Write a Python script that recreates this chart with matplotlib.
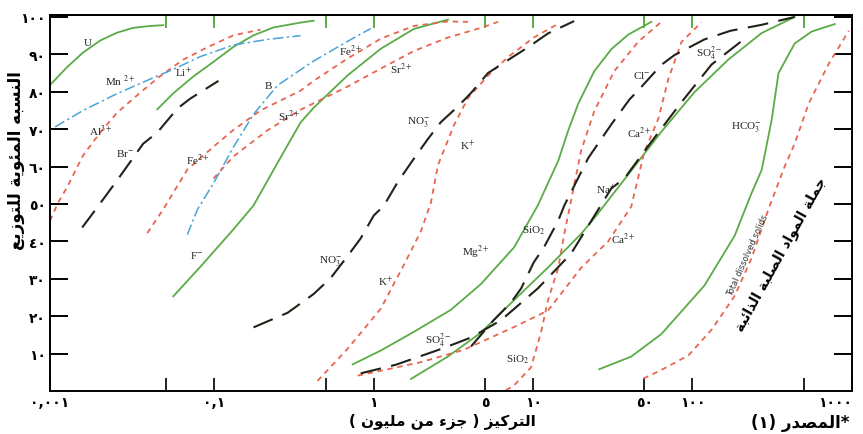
# -*- coding: utf-8 -*-
import matplotlib
matplotlib.use('Agg')
import matplotlib.pyplot as plt
from matplotlib.ticker import NullLocator

# cumulative frequency (percent) against concentration (ppm)
U_x = [0.0093, 0.0119, 0.0150, 0.0192, 0.0245, 0.0310, 0.0396, 0.0478]
U_y = [81.8, 86.6, 90.5, 93.7, 95.8, 97.1, 97.6, 97.8]

Mn_x = [0.0100, 0.0150, 0.0245, 0.0396, 0.0552, 0.0816, 0.1316, 0.2155, 0.3475]
Mn_y = [70.6, 75.0, 79.5, 83.4, 86.0, 89.4, 92.5, 94.0, 95.0]

Al_x = [0.0093, 0.0104, 0.0119, 0.0150, 0.0192, 0.0245, 0.0343, 0.0457, 0.0638, 0.0904, 0.1316, 0.1946]
Al_y = [45.5, 50.2, 54.5, 63.0, 69.1, 74.4, 79.8, 84.2, 88.6, 91.9, 95.1, 96.6]

Br_x = [0.0148, 0.0184, 0.0245, 0.0357, 0.0438, 0.0585, 0.0707, 0.106]
Br_y = [43.7, 49.1, 56.3, 66.1, 69.1, 75.5, 78.2, 82.9]

Li_x = [0.0438, 0.0552, 0.0738, 0.0986, 0.1316, 0.176, 0.235, 0.3475, 0.419]
Li_y = [75.3, 79.6, 84.1, 88.0, 92.0, 95.1, 97.2, 98.5, 99.0]

B_x = [0.0676, 0.0782, 0.0986, 0.1316, 0.176, 0.249, 0.3475, 0.419, 0.686, 0.957]
B_y = [41.8, 48.5, 55.5, 65.2, 74.0, 81.7, 85.9, 88.2, 93.5, 96.9]

F_x = [0.0552, 0.0816, 0.1316, 0.176, 0.260, 0.3475, 0.419, 0.686, 1.107, 1.785, 2.92]
F_y = [25.3, 33.2, 43.2, 49.6, 62.4, 71.8, 75.7, 84.4, 91.5, 96.8, 99.3]

Fe_x = [0.0379, 0.0478, 0.0676, 0.0986, 0.1316, 0.1946, 0.3475, 0.419, 0.686, 1.107, 1.785, 2.92, 3.90]
Fe_y = [42.2, 48.6, 59.2, 65.3, 69.8, 75.0, 80.3, 82.9, 88.9, 94.2, 97.6, 98.8, 98.7]

Sr_x = [0.0986, 0.1316, 0.2155, 0.3475, 0.686, 1.107, 1.785, 2.92, 4.71, 6.03]
Sr_y = [56.8, 62.7, 69.7, 75.2, 81.4, 86.2, 90.9, 94.5, 97.1, 98.7]

NO3_x = [0.176, 0.288, 0.419, 0.537, 0.686, 0.828, 1.0, 1.156, 1.416, 1.785, 2.19, 2.64,
         3.38, 4.08, 5.21, 6.97, 9.30, 12.4, 18.1]
NO3_y = [17.0, 20.9, 25.9, 30.2, 36.1, 40.8, 46.9, 49.5, 55.9, 62.1, 67.4, 71.9,
         76.1, 79.7, 85.0, 88.5, 91.9, 95.6, 98.9]

K_x = [0.444, 0.686, 1.107, 1.545, 1.976, 2.28, 2.53, 3.19, 3.90, 5.21, 6.97, 10.1, 14.4]
K_y = [2.7, 11.3, 22.0, 33.7, 42.7, 50.2, 60.4, 71.1, 78.3, 84.3, 89.3, 94.5, 98.2]

Mg_x = [0.738, 1.107, 1.785, 3.05, 4.71, 7.60, 10.7, 14.4, 16.6, 19.2, 24.2, 31.0, 39.6, 55.2]
Mg_y = [7.1, 10.8, 15.8, 21.7, 28.6, 38.4, 49.6, 61.6, 69.6, 76.8, 85.5, 91.4, 95.3, 98.7]

SiO2_x = [6.76, 7.60, 9.71, 11.2, 12.4, 14.4, 15.7, 17.3, 20.0, 24.2, 32.3, 45.8, 63.8]
SiO2_y = [0.2, 1.5, 6.3, 15.6, 24.2, 33.0, 42.1, 50.8, 64.2, 74.8, 85.5, 93.4, 98.7]

SO4_x = [0.828, 1.375, 2.72, 4.08, 6.29, 10.7, 17.3, 31.0, 37.4, 55.2, 85.3, 132, 225]
SO4_y = [4.7, 7.0, 11.4, 14.3, 18.9, 27.4, 36.7, 54.2, 56.8, 66.6, 77.2, 87.3, 95.0]

Ca_x = [0.793, 1.107, 1.976, 3.68, 7.60, 12.4, 20.0, 29.6, 41.3, 49.9, 61.1, 70.6, 85.3, 114]
Ca_y = [4.1, 5.4, 7.7, 11.0, 17.1, 21.5, 32.9, 40.0, 49.3, 63.9, 72.8, 83.4, 93.3, 98.6]

Na_x = [1.71, 2.92, 4.71, 7.60, 12.4, 20.0, 24.2, 39.6, 63.8, 103, 168, 272, 438]
Na_y = [3.2, 9.2, 15.6, 24.3, 33.0, 42.0, 46.2, 57.9, 69.3, 79.9, 88.6, 95.7, 100.0]

Cl_x = [4.08, 5.68, 7.28, 8.41, 10.1, 11.7, 14.4, 15.7, 22.2, 31.0, 40.2, 47.8, 63.8,
        77.1, 119, 173, 272, 438]
Cl_y = [11.9, 19.0, 23.7, 27.4, 34.4, 38.4, 45.6, 49.6, 62.3, 71.3, 77.9, 81.3, 87.2,
        89.8, 94.0, 96.3, 97.9, 100.0]

HCO3_x = [26.0, 41.3, 63.8, 119, 184, 235, 272, 314, 347, 438, 560, 782]
HCO3_y = [5.8, 9.2, 15.2, 28.2, 41.5, 52.9, 59.1, 72.4, 85.0, 92.9, 96.1, 98.1]

TDS_x = [49.2, 63.8, 94.4, 132, 184, 235, 301, 379, 438, 537, 717, 958]
TDS_y = [3.3, 5.6, 9.5, 16.4, 25.4, 35.5, 48.8, 60.0, 66.1, 76.9, 87.5, 96.3]

x_ticks = [0.05, 0.1, 0.5, 1, 5, 10, 50, 100, 500]
x_labels = {0.1: '٠,١', 1: '١', 5: '٥', 10: '١٠', 50: '٥٠', 100: '١٠٠'}
y_ticks = [10, 20, 30, 40, 50, 60, 70, 80, 90, 100]
y_labels = ['١٠', '٢٠', '٣٠', '٤٠', '٥٠', '٦٠', '٧٠', '٨٠', '٩٠', '١٠٠']

GREEN = '#5aab45'
RED = '#e8654f'
BLACK = '#222218'
BLUE = '#4ba3d6'

styles = {
    'g': dict(color=GREEN, lw=1.3, ls='-'),
    'r': dict(color=RED, lw=1.3, ls=(0, (3, 2.6))),
    'k': dict(color=BLACK, lw=1.5, ls=(0, (10, 5))),
    'b': dict(color=BLUE, lw=1.1, ls=(0, (7, 2.2, 1.5, 2.2))),
}

curves = [
    (U_x, U_y, 'g'), (Li_x, Li_y, 'g'), (F_x, F_y, 'g'), (Mg_x, Mg_y, 'g'),
    (Na_x, Na_y, 'g'), (HCO3_x, HCO3_y, 'g'),
    (Al_x, Al_y, 'r'), (Fe_x, Fe_y, 'r'), (Sr_x, Sr_y, 'r'), (K_x, K_y, 'r'),
    (SiO2_x, SiO2_y, 'r'), (Ca_x, Ca_y, 'r'), (TDS_x, TDS_y, 'r'),
    (Br_x, Br_y, 'k'), (NO3_x, NO3_y, 'k'), (SO4_x, SO4_y, 'k'), (Cl_x, Cl_y, 'k'),
    (Mn_x, Mn_y, 'b'), (B_x, B_y, 'b'),
]

# curve names written on the chart
ion_labels = [
    ('U', 0.0161, 93.2), ('Mn $^{2+}$', 0.0256, 82.9), ('Li$^{+}$', 0.0638, 85.4),
    ('Al$^{3+}$', 0.0192, 69.6), ('Br$^{-}$', 0.0275, 63.7), ('B', 0.219, 81.7),
    ('Fe$^{2+}$', 0.0782, 61.9), ('Sr$^{2+}$', 0.292, 73.6), ('Fe$^{2+}$', 0.717, 91.1),
    ('Sr$^{2+}$', 1.48, 86.1), ('NO$_3^{-}$', 1.92, 72.1), ('K$^{+}$', 3.90, 65.9),
    ('F$^{-}$', 0.0771, 36.5), ('NO$_3^{-}$', 0.537, 35.0), ('K$^{+}$', 1.19, 29.5),
    ('Mg$^{2+}$', 4.38, 37.3), ('SiO$_2$', 10.1, 43.2), ('SO$_4^{2-}$', 2.53, 13.6),
    ('SiO$_2$', 8.04, 8.7), ('Cl$^{-}$', 47.8, 84.6), ('SO$_4^{2-}$', 128, 90.5),
    ('Ca$^{2+}$', 46.4, 69.1), ('Na$^{+}$', 28.8, 53.9), ('HCO$_3^{-}$', 219, 70.9),
    ('Ca$^{2+}$', 36.8, 40.8),
]

AR_FORMS = {
    'ء': '\ufe80',
    'ئ': '\ufe89\ufe8a\ufe8b\ufe8c',
    'ا': '\ufe8d\ufe8e',
    'ب': '\ufe8f\ufe90\ufe91\ufe92',
    'ة': '\ufe93\ufe94',
    'ت': '\ufe95\ufe96\ufe97\ufe98',
    'ج': '\ufe9d\ufe9e\ufe9f\ufea0',
    'د': '\ufea9\ufeaa',
    'ذ': '\ufeab\ufeac',
    'ر': '\ufead\ufeae',
    'ز': '\ufeaf\ufeb0',
    'س': '\ufeb1\ufeb2\ufeb3\ufeb4',
    'ص': '\ufeb9\ufeba\ufebb\ufebc',
    'ع': '\ufec9\ufeca\ufecb\ufecc',
    'ك': '\ufed9\ufeda\ufedb\ufedc',
    'ل': '\ufedd\ufede\ufedf\ufee0',
    'م': '\ufee1\ufee2\ufee3\ufee4',
    'ن': '\ufee5\ufee6\ufee7\ufee8',
    'ه': '\ufee9\ufeea\ufeeb\ufeec',
    'و': '\ufeed\ufeee',
    'ي': '\ufef1\ufef2\ufef3\ufef4',
}


def ar(text):
    # matplotlib does no arabic shaping: choose the joined forms by hand, then reverse
    out = []
    for i, c in enumerate(text):
        f = AR_FORMS.get(c)
        if f is None:
            out.append({'(': ')', ')': '('}.get(c, c))
            continue
        prv = text[i - 1] if i > 0 else ''
        nxt = text[i + 1] if i + 1 < len(text) else ''
        jp = len(f) > 1 and len(AR_FORMS.get(prv, '')) == 4
        jn = len(f) == 4 and len(AR_FORMS.get(nxt, '')) > 1
        if jp and jn:
            out.append(f[3])
        elif jp:
            out.append(f[1])
        elif jn:
            out.append(f[2])
        else:
            out.append(f[0])
    return ''.join(reversed(out))


plt.rcParams['mathtext.fontset'] = 'stix'
AR_FONT = dict(family='DejaVu Sans', weight='bold')

fig = plt.figure(figsize=(8.63, 4.35), dpi=100)
ax = fig.add_axes([0.058, 0.099, 0.929, 0.864])

for xs, ys, st in curves:
    ax.plot(xs, ys, **styles[st])

for txt, x, y in ion_labels:
    ax.text(x, y, txt, fontsize=8, family='Liberation Serif', ha='center', va='center',
            color='#222222')

ax.text(222, 36.5, 'Total dissolved solids', fontsize=6, rotation=66,
        ha='center', va='center', color='#333333')
ax.text(357, 36.8, ar('جملة المواد الصلبة الذائبة'), fontsize=10, rotation=61,
        ha='center', va='center', **AR_FONT)

ax.set_xscale('log')
x_lo = 0.0093
ax.set_xlim(x_lo, 1000)
ax.set_ylim(0, 100.5)

ax.set_xticks([x_lo] + x_ticks + [1000])
ax.set_xticklabels(['٠,٠٠١'] + [x_labels.get(t, '') for t in x_ticks] + ['١٠٠٠'], **AR_FONT)
ax.get_xticklabels()[-1].set_horizontalalignment('right')
ax.xaxis.set_minor_locator(NullLocator())
ax.tick_params(axis='x', direction='in', length=9.5, width=1.2, labelsize=10, pad=3)

ax.set_yticks(y_ticks)
ax.set_yticklabels(y_labels, **AR_FONT)
ax.tick_params(axis='y', direction='in', length=13, width=1.4, labelsize=10, pad=3,
               right=True)

# green marks hanging from the top edge
top = ax.secondary_xaxis('top')
top.set_xticks(x_ticks)
top.set_xticklabels([])
top.xaxis.set_minor_locator(NullLocator())
top.tick_params(direction='in', length=9, width=1.4, color=GREEN)

for sp in ax.spines.values():
    sp.set_linewidth(1.4)
top.spines['top'].set_linewidth(1.4)

fig.text(0.018, 0.632, ar('النسبه المئوية للتوزيع'), rotation=90, fontsize=12,
         ha='center', va='center', **AR_FONT)
fig.text(0.513, 0.033, ar('التركيز ( جزء من مليون )'), fontsize=11,
         ha='center', va='center', **AR_FONT)
fig.text(0.927, 0.028, ar('*المصدر (١)'), fontsize=12, ha='center', va='center', **AR_FONT)

fig.savefig('out.png', dpi=100)
